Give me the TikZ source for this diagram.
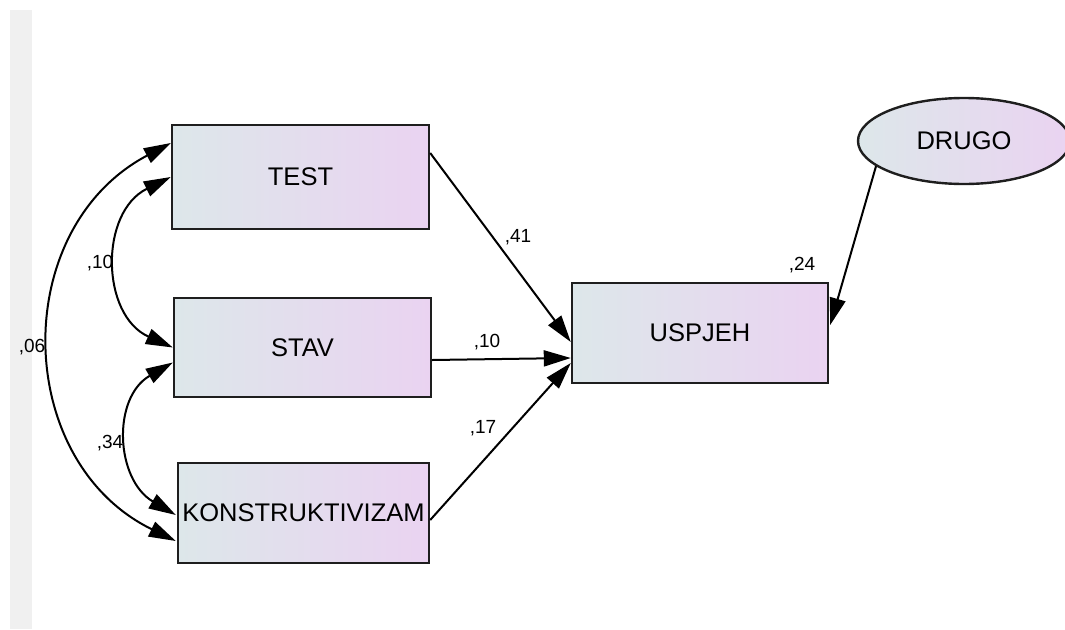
\documentclass[tikz,border=0pt]{standalone}
\usepackage{fontspec}
\setmainfont{Liberation Sans}
\usetikzlibrary{arrows.meta,shapes.geometric,calc}
\definecolor{gradL}{HTML}{DDE7EA}
\definecolor{gradR}{HTML}{EAD3F1}
\definecolor{strip}{HTML}{F0F0F0}
\definecolor{edge}{HTML}{1E1E1E}
\tikzset{
  varbox/.style={draw=edge, line width=2.4pt, left color=gradL, right color=gradR,
    minimum width=#1, minimum height=100pt, inner sep=0pt, font=\fontsize{25.5}{28}\selectfont},
  latent/.style={ellipse, draw=edge, line width=2.4pt, left color=gradL, right color=gradR,
    minimum width=212pt, minimum height=86pt, inner sep=0pt, font=\fontsize{25.5}{28}\selectfont},
  coef/.style={inner sep=0pt, font=\fontsize{19}{21}\selectfont},
  path/.style={line width=2pt, -{Triangle[length=27pt,width=16pt]}},
  cov/.style={line width=2pt, {Triangle[length=27pt,width=16pt]}-{Triangle[length=27pt,width=16pt]}},
}
\begin{document}
\begin{tikzpicture}[x=1pt,y=1pt]
\useasboundingbox (0,0) rectangle (1065,-629);
\fill[strip] (10,-10) rectangle (32,-629);

\node[varbox=257pt, minimum height=104pt] (TEST) at (300.5,-177) {TEST};
\node[varbox=257pt, minimum height=99pt] (STAV) at (302.5,-347.5) {STAV};
\node[varbox=251pt] (KON) at (303.5,-513) {KONSTRUKTIVIZAM};
\node[varbox=256pt] (USP) at (700,-333) {USPJEH};
\node[latent] (DRUGO) at (964,-141) {DRUGO};

% coefficient labels
\node[coef] (l41) at (518,-237) {,41};
\node[coef] (l10b) at (487,-342) {,10};
\node[coef] (l17) at (483,-428) {,17};
\node[coef] (l24) at (802,-265) {,24};
\node[coef] (l10) at (100,-263) {,10};
\node[coef] (l34) at (110,-443) {,34};
\node[coef] (l06) at (32,-347) {,06};

% regression paths
\coordinate (tA) at ($(TEST.east)+(0,24)$);
\coordinate (sA) at ($(STAV.east)+(0,-12.5)$);
\coordinate (kA) at ($(KON.east)+(0,-7)$);
\coordinate (uT) at ($(USP.west)+(0,-9)$);
\coordinate (uS) at ($(USP.west)+(0,-25)$);
\coordinate (uK) at ($(USP.west)+(0,-30)$);
\coordinate (uD) at ($(USP.east)+(1,8)$);
\draw[path] (tA) -- (uT);
\draw[path] (sA) -- (uS);
\draw[path] (kA) -- (uK);
\draw[path] (DRUGO.196) -- (uD);

% covariances
\coordinate (t06) at ($(TEST.west)+(0,34)$);
\coordinate (k06) at ($(KON.west)+(-1,-28)$);
\coordinate (s34) at ($(STAV.west)+(0,-15)$);
\coordinate (k34) at ($(KON.west)+(-1,-2)$);
\draw[cov] (t06) .. controls (8.6,-228.8) and (12.6,-461.2) .. (k06);
\draw[cov] (TEST.west) .. controls (99.2,-212.2) and (100.6,-315.2) .. (STAV.west);
\draw[cov] (s34) .. controls (111.8,-397.6) and (115.3,-479.4) .. (k34);
\end{tikzpicture}
\end{document}
